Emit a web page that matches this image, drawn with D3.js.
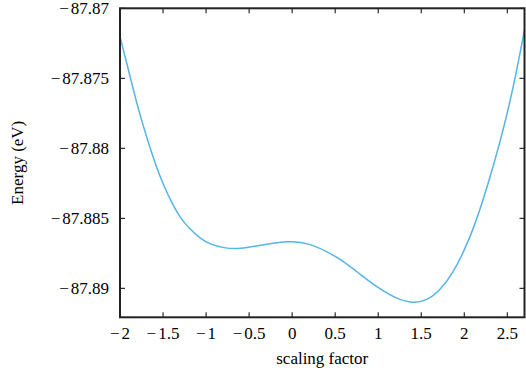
<!DOCTYPE html>
<html>
<head>
<meta charset="utf-8">
<script src="https://cdn.jsdelivr.net/npm/d3@7"></script>
<style>
  html, body { margin: 0; padding: 0; background: #fff; }
</style>
</head>
<body>
<svg id="chart" width="526" height="373"></svg>
<script>
// Scaling factor (x) and energy (eV)
const scalingFactor = [-2, -1.922, -1.864, -1.806, -1.729, -1.651, -1.574, -1.497, -1.4, -1.303, -1.187, -1.07, -0.954, -0.8, -0.6, -0.4, -0.2, 0, 0.2, 0.4, 0.6, 0.8, 1.0, 1.215, 1.408, 1.564, 1.718, 1.873, 1.989, 2.105, 2.222, 2.338, 2.454, 2.57, 2.7];
const energy = [-87.87202, -87.87391, -87.87534, -87.87676, -87.87843, -87.87996, -87.88139, -87.88258, -87.88388, -87.88495, -87.88578, -87.88644, -87.88685, -87.88713, -87.88719, -87.88695, -87.88674, -87.88662, -87.8868, -87.88735, -87.88806, -87.88905, -87.88998, -87.89076, -87.89107, -87.89088, -87.89017, -87.88886, -87.88744, -87.88578, -87.88364, -87.88127, -87.87866, -87.87569, -87.87154];

const xTicks = [-2, -1.5, -1, -0.5, 0, 0.5, 1, 1.5, 2, 2.5];
const yTicks = [-87.87, -87.875, -87.88, -87.885, -87.89];
const xDomain = [-2, 2.7];
const yDomain = [-87.89207, -87.87];

const FONT = "Liberation Serif";
const svg = d3.select("#chart");
const mL = 120, mR = 524.5, mT = 8.3, mB = 317.3;

const x = d3.scaleLinear().domain(xDomain).range([mL, mR]);
const y = d3.scaleLinear().domain(yDomain).range([mB, mT]);

const data = scalingFactor.map((v, i) => [v, energy[i]]);

// curve
svg.append("path")
  .datum(data)
  .attr("fill", "none")
  .attr("stroke", "#56b4e9")
  .attr("stroke-width", 1.5)
  .attr("d", d3.line().x(d => x(d[0])).y(d => y(d[1])).curve(d3.curveBasis));

const tickLen = 5;
const g = svg.append("g");

function addText(xp, yp, anchor, str, transform) {
  const t = svg.append("text")
    .attr("text-anchor", anchor)
    .attr("font-size", 17)
    .attr("fill", "#000")
    .attr("font-family", FONT)
    .text(str);
  if (transform) t.attr("transform", transform);
  else t.attr("x", xp).attr("y", yp);
  return t;
}

function addNumber(xp, yp, anchor, v) {
  const t = svg.append("text")
    .attr("x", xp).attr("y", yp)
    .attr("text-anchor", anchor)
    .attr("font-size", 17)
    .attr("fill", "#000")
    .attr("font-family", FONT);
  if (v < 0) {
    t.append("tspan").text("\u2212");
    t.append("tspan").attr("dx", 2).text(String(Math.abs(v)));
  } else {
    t.text(String(v));
  }
  return t;
}

// x ticks bottom and top (inward)
xTicks.forEach(t => {
  g.append("line").attr("x1", x(t)).attr("x2", x(t)).attr("y1", mB).attr("y2", mB - tickLen)
    .attr("stroke", "#000").attr("stroke-width", 1);
  g.append("line").attr("x1", x(t)).attr("x2", x(t)).attr("y1", mT).attr("y2", mT + tickLen)
    .attr("stroke", "#000").attr("stroke-width", 1);
  addNumber(x(t), 339, "middle", t);
});

// y ticks left and right (inward)
yTicks.forEach(t => {
  g.append("line").attr("x1", mL).attr("x2", mL + tickLen).attr("y1", y(t)).attr("y2", y(t))
    .attr("stroke", "#000").attr("stroke-width", 1);
  g.append("line").attr("x1", mR).attr("x2", mR - tickLen).attr("y1", y(t)).attr("y2", y(t))
    .attr("stroke", "#000").attr("stroke-width", 1);
  addNumber(109, y(t) + 5.5, "end", t);
});

// frame
svg.append("rect").attr("x", mL).attr("y", mT).attr("width", mR - mL).attr("height", mB - mT)
  .attr("fill", "none").attr("stroke", "#222").attr("stroke-width", 2);

// axis titles
addText((mL + mR) / 2, 364, "middle", "scaling factor");
addText(0, 0, "middle", "Energy (eV)", `translate(23,${(mT + mB) / 2}) rotate(-90)`);
</script>
</body>
</html>
